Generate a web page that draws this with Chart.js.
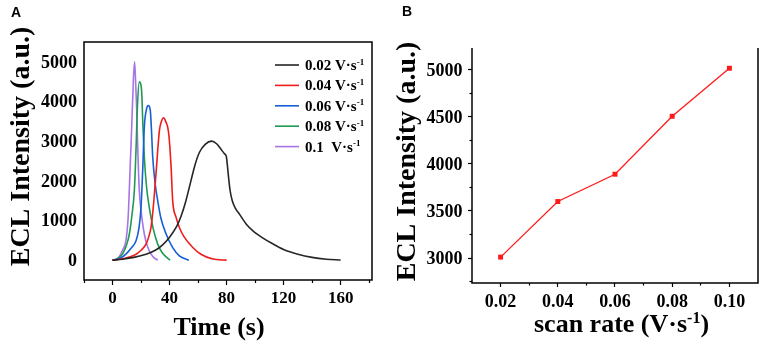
<!DOCTYPE html>
<html><head><meta charset="utf-8">
<script src="https://cdn.jsdelivr.net/npm/chart.js@4/dist/chart.umd.min.js"></script>
<style>
html,body{margin:0;padding:0;background:#fff;width:765px;height:344px;overflow:hidden}
#a{position:absolute;left:0;top:0}
#b{position:absolute;left:380px;top:0}
</style></head><body>
<canvas id="a" width="380" height="344"></canvas>
<canvas id="b" width="385" height="344"></canvas>
<script>
// ---------- Panel A data ----------
const legendRates = ['0.02', '0.04', '0.06', '0.08', '0.1 '];
const time002 = [0, 7, 15, 23.5, 30, 35, 40, 45, 48, 51.5, 55, 58, 61, 65, 69.5, 73, 76, 78.6, 79.8, 80.6, 81.5, 82.5, 84, 86, 89, 94, 98.5, 105, 112, 120, 130, 140, 150, 160];
const ecl002  = [0, 25, 70, 150, 250, 380, 580, 850, 1100, 1500, 2000, 2420, 2720, 2920, 3000, 2935, 2800, 2680, 2620, 2380, 2050, 1750, 1500, 1320, 1160, 900, 740, 570, 420, 270, 150, 70, 25, 5];
const time004 = [0, 8, 16.5, 20, 23.5, 25.5, 27, 28.5, 30.5, 32.9, 34.5, 35.9, 37.5, 38.7, 39.6, 41.1, 42.2, 44.6, 46.9, 50, 56.3, 62, 70.4, 80];
const ecl004  = [0, 40, 150, 250, 405, 600, 825, 1300, 2180, 3270, 3520, 3590, 3480, 3355, 3130, 2340, 1500, 1080, 825, 600, 320, 150, 30, 0];
const time006 = [0, 5, 9.4, 13, 16.5, 18.5, 20, 21.2, 22.3, 23.8, 25.1, 26.5, 27.3, 28.2, 30, 31.7, 34, 37.6, 42, 46.9, 53.5];
const ecl006  = [0, 40, 152, 300, 490, 800, 1330, 2300, 3355, 3800, 3895, 3775, 3300, 2600, 1900, 1500, 1050, 660, 330, 110, 0];
const time008 = [0, 3, 7, 10, 11.8, 13.5, 15.3, 16.5, 17.5, 18.8, 20.4, 21.2, 22.3, 24, 25.8, 28.5, 31.7, 35, 40.4];
const ecl008  = [0, 30, 152, 400, 660, 1100, 1750, 2800, 3900, 4495, 4280, 3500, 2600, 1800, 1330, 800, 405, 180, 0];
const time01  = [0, 2.5, 4.7, 7, 9.4, 11, 12.2, 13.5, 14.7, 15.5, 16.2, 16.9, 17.8, 18.8, 20.5, 22.3, 24.5, 27, 29.5, 31.7];
const ecl01   = [0, 20, 84, 250, 490, 1100, 2180, 3400, 4600, 5000, 4500, 3860, 2700, 1750, 1100, 660, 350, 152, 50, 0];
const timeSeries = [time002, time004, time006, time008, time01];
const eclSeries  = [ecl002, ecl004, ecl006, ecl008, ecl01];
const xMajorTicksA = [0, 40, 80, 120, 160];
const xMinorTicksA = [-20, 20, 60, 100, 140, 180];
const yTicksA = [0, 1000, 2000, 3000, 4000, 5000];

// ---------- Panel B data ----------
const scanRates = [0.02, 0.04, 0.06, 0.08, 0.10];
const peakEcl   = [3010, 3600, 3890, 4505, 5015];
const xMajorTicksB = [0.02, 0.04, 0.06, 0.08, 0.10];
const xMinorTicksB = [0.03, 0.05, 0.07, 0.09];
const yMajorTicksB = [3000, 3500, 4000, 4500, 5000];
const yMinorTicksB = [2750, 3250, 3750, 4250, 4750];

// ---------- styles ----------
const lineColors = ['#262626', '#f01c1c', '#1660d6', '#1f9a52', '#a874e6'];
const SERIF = "'Liberation Serif', 'Times New Roman', serif";
const SANS = "'Liberation Sans', Arial, sans-serif";

Chart.defaults.font.family = SERIF;
Chart.defaults.font.weight = 'bold';
Chart.defaults.color = '#000';
Chart.defaults.animation = false;

function supSize(s){ return Math.round(s * 0.62); }
function richWidth(ctx, parts, size){
  let w = 0;
  for (const p of parts){ ctx.font = `bold ${p.sup ? supSize(size) : size}px ${SERIF}`; w += ctx.measureText(p.t).width; }
  return w;
}
function drawRich(ctx, parts, x, y, size, align){
  const w = richWidth(ctx, parts, size);
  let cx = align === 'center' ? x - w / 2 : (align === 'right' ? x - w : x);
  ctx.textAlign = 'left'; ctx.textBaseline = 'alphabetic'; ctx.fillStyle = '#000';
  for (const p of parts){
    const s = p.sup ? supSize(size) : size;
    ctx.font = `bold ${s}px ${SERIF}`;
    ctx.fillText(p.t, cx, p.sup ? y - size * 0.36 : y);
    cx += ctx.measureText(p.t).width;
  }
}
function drawVertical(ctx, text, xBase, yCenter, size){
  ctx.save();
  ctx.translate(xBase, yCenter);
  ctx.rotate(-Math.PI / 2);
  ctx.font = `bold ${size}px ${SERIF}`;
  ctx.fillStyle = '#000'; ctx.textAlign = 'center'; ctx.textBaseline = 'alphabetic';
  ctx.fillText(text, 0, 0);
  ctx.restore();
}
// tick labels placed at the library's own scale positions
function drawXLabels(ctx, scale, values, fmt, baseline, size){
  values.forEach(v => drawRich(ctx, [{t: fmt(v)}], scale.getPixelForValue(v), baseline, size, 'center'));
}
function drawYLabels(ctx, scale, values, fmt, right, size){
  values.forEach(v => drawRich(ctx, [{t: fmt(v)}], right, scale.getPixelForValue(v) + size * 0.33, size, 'right'));
}

// ---------- Chart A ----------
const decoA = {
  id: 'decoA',
  afterDraw(chart){
    const ctx = chart.ctx, a = chart.chartArea;
    ctx.save();
    ctx.strokeStyle = '#000'; ctx.lineWidth = 1.5;
    ctx.strokeRect(a.left, a.top, a.right - a.left, a.bottom - a.top);
    chart.data.datasets.forEach((ds, i) => {
      const y = 65 + i * 20.4;
      ctx.strokeStyle = ds.borderColor; ctx.lineWidth = 1.6;
      ctx.beginPath(); ctx.moveTo(275, y); ctx.lineTo(299, y); ctx.stroke();
      drawRich(ctx, [{t: ds.label + ' V·s'}, {t: '-1', sup: true}], 305, y + 5, 15, 'left');
    });
    drawXLabels(ctx, chart.scales.x, xMajorTicksA, v => String(v), 303, 17);
    drawYLabels(ctx, chart.scales.y, yTicksA, v => String(v), 77, 18);
    drawVertical(ctx, 'ECL Intensity (a.u.)', 28.5, 146.5, 28);
    drawRich(ctx, [{t: 'Time (s)'}], 219, 335, 26, 'center');
    ctx.font = `bold 14px ${SANS}`; ctx.fillStyle = '#000'; ctx.textAlign = 'left';
    ctx.fillText('A', 11, 17);
    ctx.restore();
  }
};

const chartA = new Chart(document.getElementById('a'), {
  type: 'line',
  data: {
    datasets: legendRates.map((lab, i) => ({
      label: lab,
      data: timeSeries[i].map((t, j) => ({x: t, y: eclSeries[i][j]})),
      borderColor: lineColors[i], borderWidth: 1.6, pointRadius: 0,
      cubicInterpolationMode: 'monotone', fill: false
    }))
  },
  options: {
    responsive: false, devicePixelRatio: 1,
    layout: {padding: {left: 0, top: 42, right: 8, bottom: 0}},
    plugins: {legend: {display: false}, tooltip: {enabled: false}},
    scales: {
      x: {
        type: 'linear', position: 'bottom', min: -20, max: 182, weight: 1,
        afterBuildTicks: s => { s.ticks = xMajorTicksA.map(v => ({value: v})); },
        afterFit: s => { s.height = 64; },
        grid: {drawOnChartArea: false, tickLength: 5, tickWidth: 1.2, tickColor: '#000'},
        border: {display: false},
        ticks: {display: false, autoSkip: false}
      },
      xm: {
        type: 'linear', position: 'bottom', min: -20, max: 182, weight: 0,
        afterBuildTicks: s => { s.ticks = xMinorTicksA.map(v => ({value: v})); },
        afterFit: s => { s.height = 0; },
        grid: {drawOnChartArea: false, tickLength: 3, tickWidth: 1.2, tickColor: '#000'},
        border: {display: false},
        ticks: {display: false, autoSkip: false}
      },
      y: {
        type: 'linear', position: 'left', min: -500, max: 5500,
        afterBuildTicks: s => { s.ticks = yTicksA.map(v => ({value: v})); },
        afterFit: s => { s.width = 84; },
        grid: {drawOnChartArea: false, drawTicks: false},
        border: {display: false},
        ticks: {display: false, autoSkip: false}
      }
    }
  },
  plugins: [decoA]
});

// ---------- Chart B ----------
const decoB = {
  id: 'decoB',
  afterDraw(chart){
    const ctx = chart.ctx, a = chart.chartArea;
    ctx.save();
    ctx.strokeStyle = '#000'; ctx.lineWidth = 1.5;
    ctx.beginPath();
    ctx.moveTo(a.left, a.top); ctx.lineTo(a.left, a.bottom); ctx.lineTo(a.right, a.bottom); ctx.lineTo(a.right, a.top);
    ctx.stroke();
    drawXLabels(ctx, chart.scales.x, xMajorTicksB, v => v.toFixed(2), 307, 18);
    drawYLabels(ctx, chart.scales.y, yMajorTicksB, v => String(v), 82.5, 18);
    drawVertical(ctx, 'ECL Intensity (a.u.)', 35, 161.5, 28);
    drawRich(ctx, [{t: 'scan rate (V·s'}, {t: '-1', sup: true}, {t: ')'}], 241.5, 332, 26, 'center');
    ctx.font = `bold 14px ${SANS}`; ctx.fillStyle = '#000'; ctx.textAlign = 'left';
    ctx.fillText('B', 22, 16);
    ctx.restore();
  }
};

const chartB = new Chart(document.getElementById('b'), {
  type: 'line',
  data: {
    datasets: [{
      label: 'ECL',
      data: scanRates.map((r, i) => ({x: r, y: peakEcl[i]})),
      borderColor: '#ff1a1a', borderWidth: 1.3, tension: 0,
      pointStyle: 'rect', pointRadius: 3.5, pointBackgroundColor: '#ff1a1a', pointBorderWidth: 0, fill: false
    }]
  },
  options: {
    responsive: false, devicePixelRatio: 1,
    layout: {padding: {left: 0, top: 48, right: 7, bottom: 0}},
    plugins: {legend: {display: false}, tooltip: {enabled: false}},
    scales: {
      x: {
        type: 'linear', position: 'bottom', min: 0.01, max: 0.11, weight: 1,
        afterBuildTicks: s => { s.ticks = xMajorTicksB.map(v => ({value: v})); },
        afterFit: s => { s.height = 61; },
        grid: {drawOnChartArea: false, tickLength: 4, tickWidth: 1.2, tickColor: '#000'},
        border: {display: false},
        ticks: {display: false, autoSkip: false}
      },
      xm: {
        type: 'linear', position: 'bottom', min: 0.01, max: 0.11, weight: 0,
        afterBuildTicks: s => { s.ticks = xMinorTicksB.map(v => ({value: v})); },
        afterFit: s => { s.height = 0; },
        grid: {drawOnChartArea: false, tickLength: 2.5, tickWidth: 1.2, tickColor: '#000'},
        border: {display: false},
        ticks: {display: false, autoSkip: false}
      },
      y: {
        type: 'linear', position: 'left', min: 2735, max: 5230, weight: 1,
        afterBuildTicks: s => { s.ticks = yMajorTicksB.map(v => ({value: v})); },
        afterFit: s => { s.width = 92; },
        grid: {drawOnChartArea: false, tickLength: 4, tickWidth: 1.2, tickColor: '#000'},
        border: {display: false},
        ticks: {display: false, autoSkip: false}
      },
      ym: {
        type: 'linear', position: 'left', min: 2735, max: 5230, weight: 0,
        afterBuildTicks: s => { s.ticks = yMinorTicksB.map(v => ({value: v})); },
        afterFit: s => { s.width = 0; },
        grid: {drawOnChartArea: false, tickLength: 2.5, tickWidth: 1.2, tickColor: '#000'},
        border: {display: false},
        ticks: {display: false, autoSkip: false}
      }
    }
  },
  plugins: [decoB]
});

// redraw once fonts are surely resolved
function redrawAll(){ chartA.render(); chartB.render(); }
if (document.fonts && document.fonts.load) {
  Promise.all([
    document.fonts.load(`bold 18px ${SERIF}`, '0123456789'),
    document.fonts.load(`bold 17px ${SERIF}`, '0123456789')
  ]).then(redrawAll, redrawAll);
}
setTimeout(redrawAll, 50);
</script>
</body></html>
